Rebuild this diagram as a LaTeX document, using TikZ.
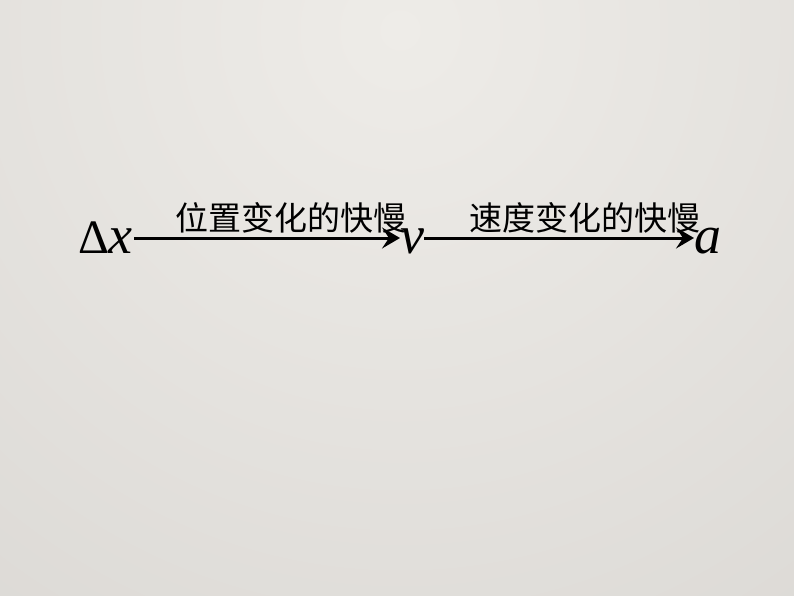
\documentclass[tikz,border=0pt]{standalone}
\usepackage{fontspec}
\setmainfont{Liberation Serif}
\newfontfamily\lat{Liberation Serif}
\newfontfamily\cjk{Noto Sans CJK SC}
\usetikzlibrary{arrows.meta}
\definecolor{bglight}{RGB}{238,236,232}
\definecolor{bgdark}{RGB}{204,201,197}
\begin{document}
\begin{tikzpicture}[x=1pt,y=-1pt,
  sym/.style={inner sep=0pt, text height=35pt, text depth=5pt, anchor=base west, font=\lat\fontsize{54}{54}\selectfont},
  lbl/.style={font=\cjk\fontsize{33}{33}\selectfont, inner sep=0pt, anchor=center},
  arr/.style={line width=3pt, -{Stealth[length=18pt,width=21pt,inset=7pt]}}]
\useasboundingbox (0,0) rectangle (794,596);
\clip (0,0) rectangle (794,596);
\shade[inner color=bglight, outer color=bgdark] (400,30) circle (1400);
\node[sym] (dx) at (78,253) {{\fontsize{48}{48}\selectfont Δ}\kern-1pt\textit{x}};
\node[sym] (v) at (400,253) {\textit{v}};
\node[sym] (a) at (694,253) {\textit{a}};
\draw[arr] ([xshift=2pt]dx.east) -- (v.west);
\draw[arr] (v.east) -- (a.west);
\node[lbl] (l1) at (291,218) {位置变化的快慢};
\node[lbl] (l2) at (585,218) {速度变化的快慢};
\end{tikzpicture}
\end{document}
